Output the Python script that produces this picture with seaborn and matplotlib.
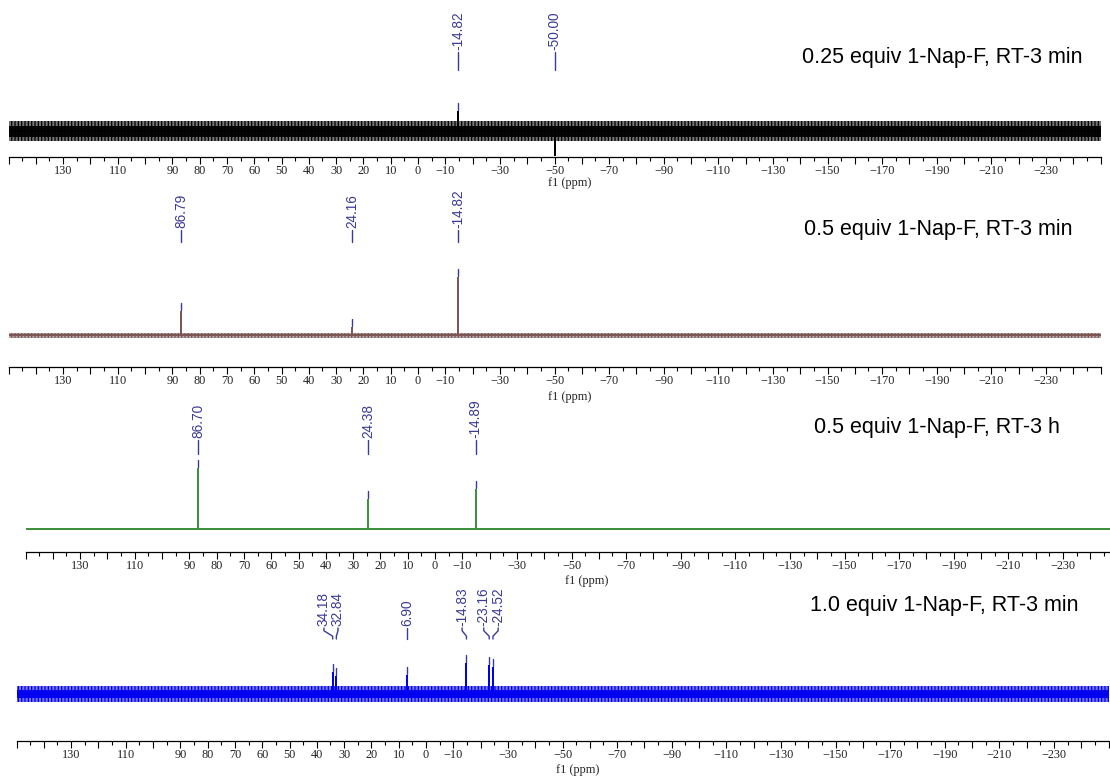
import numpy as np
import pandas as pd
import matplotlib
matplotlib.use("Agg")
import matplotlib.pyplot as plt
from matplotlib.colors import to_rgba
from matplotlib.ticker import FixedLocator, FuncFormatter
import seaborn as sns

# ---------------- data ----------------
ppm_range = [150, -250]
tick_labels_ppm = [130, 110, 90, 80, 70, 60, 50, 40, 30, 20, 10, 0, -10,
                   -30, -50, -70, -90, -110, -130, -150, -170, -190, -210, -230]

titles = ["0.25 equiv 1-Nap-F, RT-3 min",
          "0.5 equiv 1-Nap-F, RT-3 min",
          "0.5 equiv 1-Nap-F, RT-3 h",
          "1.0 equiv 1-Nap-F, RT-3 min"]

p1_peaks = [-14.82, -50.00]
p1_heights = [19, -24]
p1_noise = 10

p2_peaks = [86.79, 24.16, -14.82]
p2_heights = [23, 7, 57]
p2_noise = 2.5

p3_peaks = [86.70, 24.38, -14.89]
p3_heights = [60, 29, 39]
p3_noise = 1.0

p4_peaks = [34.18, 32.84, 6.90, -14.83, -23.16, -24.52]
p4_heights = [21, 17, 18, 30, 28, 26]
p4_noise = 8

# ---------------- styling / layout ----------------
W, H = 1110, 776
colors = ["#000000", "#7d5656", "#3f8f3f", "#0000f0"]
label_color = "#3a3a98"

layout = [
    dict(top=0, axis=157, base=131, x0=8.5, lab=50, lead=(52, 70), title=(1082, 57), xl=183,
         off=[0, 0]),
    dict(top=178, axis=367, base=335, x0=8.5, lab=228, lead=(230, 242), title=(1073, 229), xl=397,
         off=[0, 0, 0]),
    dict(top=392, axis=552, base=529, x0=25.5, lab=438, lead=(440, 454), title=(1060, 427), xl=581,
         off=[0, 0, 0]),
    dict(top=578, axis=741, base=694, x0=16.5, lab=626, lead=(628, 639), title=(1078, 606), xl=770,
         off=[3.2, -0.6, 0, 1.6, 2.0, -1.9]),
]

panels = [(p1_peaks, p1_heights, p1_noise),
          (p2_peaks, p2_heights, p2_noise),
          (p3_peaks, p3_heights, p3_noise),
          (p4_peaks, p4_heights, p4_noise)]

sns.set_theme(style="white")
plt.rcParams["font.family"] = ["Liberation Sans", "DejaVu Sans"]
plt.rcParams["hatch.linewidth"] = 0.9

fig = plt.figure(figsize=(W / 100, H / 100), dpi=100)
px_per_ppm = 1092 / 400.0
span_px = (ppm_range[0] - ppm_range[1]) * px_per_ppm

def tick_fmt(v, pos):
    iv = int(round(v))
    if iv in tick_labels_ppm:
        return str(iv).replace("-", "\u2212")
    return ""

for i, ((peaks, heights, noise), L) in enumerate(zip(panels, layout)):
    hpx = L["axis"] - L["top"]
    ax = fig.add_axes([L["x0"] / W, 1 - L["axis"] / H, span_px / W, hpx / H])
    ax.set_xlim(ppm_range[0], ppm_range[1])
    ax.set_ylim(L["base"] - L["axis"], L["base"] - L["top"])
    col = colors[i]

    # noise band (texture)
    ax.fill_between(ppm_range, [-noise, -noise], [noise, noise],
                    facecolor=to_rgba(col, 0.55), edgecolor=col, hatch="|||||",
                    linewidth=0, zorder=1)
    ax.fill_between(ppm_range, [-0.55 * noise, -0.55 * noise], [0.55 * noise, 0.55 * noise],
                    facecolor=to_rgba(col, 0.95), linewidth=0, zorder=1)

    # stick spectrum
    order = np.argsort(peaks)[::-1]
    xs, ys = [ppm_range[0]], [0.0]
    for k in order:
        xs += [peaks[k], peaks[k], peaks[k]]
        ys += [0.0, heights[k], 0.0]
    xs.append(ppm_range[1]); ys.append(0.0)
    df = pd.DataFrame({"ppm": xs, "intensity": ys})
    sns.lineplot(data=df, x="ppm", y="intensity", sort=False, estimator=None,
                 color=col, linewidth=1.3, ax=ax, zorder=2)

    # peak labels
    ylab = L["base"] - L["lab"]
    yl0 = L["base"] - L["lead"][0]
    yl1 = L["base"] - L["lead"][1]
    for k, (p, h) in enumerate(zip(peaks, heights)):
        xlab = p + L["off"][k]
        ax.text(xlab, ylab, f"{p:.2f}", rotation=90, ha="center", va="bottom",
                color=label_color, fontsize=9.8, clip_on=False,
                family=["Liberation Sans", "DejaVu Sans"])
        if abs(xlab - p) < 1e-9:
            ax.plot([p, p], [yl0, yl1], color=label_color, lw=1.0, clip_on=False)
        else:
            Ld = yl0 - yl1
            ax.plot([xlab, xlab, p, p], [yl0, yl0 - 0.25 * Ld, yl0 - 0.75 * Ld, yl1],
                    color=label_color, lw=1.0, clip_on=False)
        if h > 0:
            ax.plot([p, p], [h + 2, h + 9], color=label_color, lw=1.0)

    # axes styling
    for s in ["top", "left", "right"]:
        ax.spines[s].set_visible(False)
    ax.spines["bottom"].set_color("black")
    ax.spines["bottom"].set_linewidth(0.9)
    ax.set_yticks([])
    ax.set_ylabel("")
    ax.xaxis.set_major_locator(FixedLocator(np.arange(-250, 151, 10)))
    ax.xaxis.set_minor_locator(FixedLocator(np.arange(-245, 150, 10)))
    ax.xaxis.set_major_formatter(FuncFormatter(tick_fmt))
    ax.tick_params(axis="x", which="major", direction="out", length=5, width=0.8,
                   color="black", pad=1, labelsize=8.8, labelcolor="#222222", bottom=True)
    ax.tick_params(axis="x", which="minor", direction="out", length=3, width=0.8,
                   color="black", bottom=True)
    for t in ax.get_xticklabels():
        t.set_family(["Liberation Serif", "DejaVu Serif"])
    ax.set_xlabel("f1 (ppm)", fontsize=8.8, family=["Liberation Serif", "DejaVu Serif"],
                  color="#222222")
    ax.xaxis.set_label_coords(0.514, -(L["xl"] - L["axis"]) / hpx)
    ax.xaxis.label.set_va("center")
    ax.set_facecolor("none")

    fig.text(L["title"][0] / W, 1 - L["title"][1] / H, titles[i], ha="right", va="center",
             fontsize=15.5, color="black", family=["Liberation Sans", "DejaVu Sans"])

fig.savefig("out.png", dpi=100, facecolor="white")
